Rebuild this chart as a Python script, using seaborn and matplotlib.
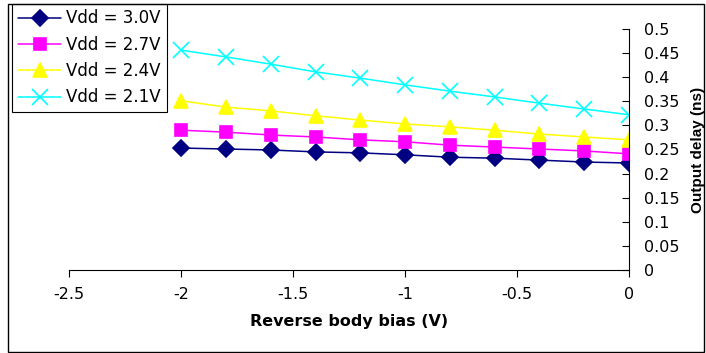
import numpy as np
import pandas as pd
import seaborn as sns
import matplotlib.pyplot as plt
from matplotlib.patches import Rectangle

bias = [-2.0, -1.8, -1.6, -1.4, -1.2, -1.0, -0.8, -0.6, -0.4, -0.2, 0.0]
vdd_30 = [0.253, 0.251, 0.249, 0.245, 0.243, 0.239, 0.234, 0.232, 0.228, 0.224, 0.222]
vdd_27 = [0.290, 0.286, 0.280, 0.276, 0.270, 0.266, 0.259, 0.255, 0.251, 0.247, 0.241]
vdd_24 = [0.351, 0.338, 0.330, 0.320, 0.311, 0.303, 0.297, 0.290, 0.282, 0.276, 0.270]
vdd_21 = [0.456, 0.442, 0.427, 0.411, 0.398, 0.384, 0.371, 0.359, 0.346, 0.334, 0.322]
labels = ['Vdd = 3.0V', 'Vdd = 2.7V', 'Vdd = 2.4V', 'Vdd = 2.1V']
colors = ['#000080', '#FF00FF', '#FFFF00', '#00FFFF']
marks = ['D', 's', '^', 'x']
msizes = [8, 9, 10, 11]

sns.set_style('white')
plt.rcParams['font.family'] = ['DejaVu Sans']
plt.rcParams['text.color'] = 'black'
plt.rcParams['axes.labelcolor'] = 'black'
plt.rcParams['xtick.color'] = 'black'
plt.rcParams['ytick.color'] = 'black'

fig = plt.figure(figsize=(7.06, 3.53), dpi=100)
ax = fig.add_axes([0.098, 0.235, 0.793, 0.683])

for lab, vals, c, m, ms in zip(labels, [vdd_30, vdd_27, vdd_24, vdd_21], colors, marks, msizes):
    d = pd.DataFrame({'bias': bias, 'delay': vals})
    sns.lineplot(data=d, x='bias', y='delay', color=c, marker=m, markersize=ms,
                 markeredgecolor=c, markeredgewidth=1.2, linewidth=1.1,
                 label=lab, ax=ax)

ax.set_xlim(-2.5, 0)
ax.set_ylim(0, 0.5)
ax.set_xticks([-2.5, -2, -1.5, -1, -0.5, 0])
ax.set_xticklabels(['-2.5', '-2', '-1.5', '-1', '-0.5', '0'])
ax.set_yticks(np.arange(0, 0.51, 0.05))
ax.set_yticklabels(['0', '0.05', '0.1', '0.15', '0.2', '0.25', '0.3', '0.35',
                    '0.4', '0.45', '0.5'])

ax.spines['top'].set_visible(False)
ax.spines['left'].set_visible(False)
ax.spines['right'].set_color('black')
ax.spines['bottom'].set_color('black')
ax.spines['right'].set_linewidth(0.8)
ax.spines['bottom'].set_linewidth(0.8)
ax.yaxis.tick_right()
ax.yaxis.set_label_position('right')
ax.tick_params(axis='x', direction='out', length=5, width=0.8, colors='black',
               labelsize=11.5, pad=7, bottom=True)
ax.tick_params(axis='y', direction='in', length=5, width=0.8, colors='black',
               labelsize=11.5, pad=11, right=True, left=False)

ax.set_xlabel('Reverse body bias (V)', fontsize=11.5, fontweight='bold', labelpad=9,
              color='black')
ax.set_ylabel('Output delay (ns)', fontsize=11, fontweight='bold', labelpad=8,
              family='Liberation Sans', color='black')

ax.legend(loc='upper left', bbox_to_anchor=(0.017, 0.99),
          bbox_transform=fig.transFigure, fontsize=12, frameon=True,
          fancybox=False, edgecolor='black', framealpha=1,
          borderpad=0.35, labelspacing=0.5, handlelength=2.6, handletextpad=0.3,
          borderaxespad=0)
leg = ax.get_legend()
leg.get_frame().set_linewidth(0.8)
for t in leg.get_texts():
    t.set_color('black')

fig.patches.append(Rectangle((0.012, 0.003), 0.985, 0.987, transform=fig.transFigure,
                             fill=False, edgecolor='black', linewidth=1.0))

fig.savefig('out.png', dpi=100)
